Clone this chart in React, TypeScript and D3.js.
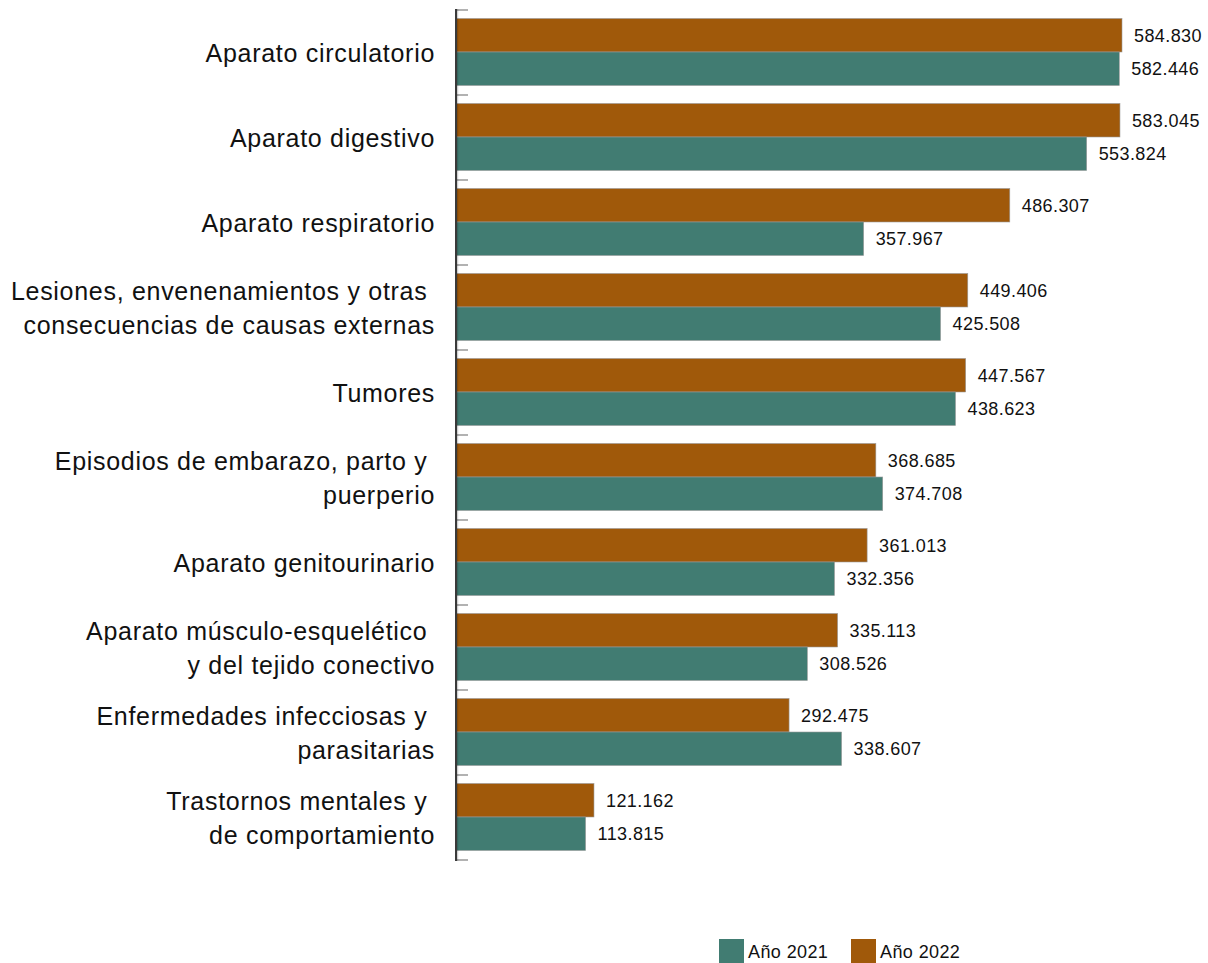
import React from 'react';
import * as d3 from 'd3';

const categories: string[][] = [
  ['Aparato circulatorio'],
  ['Aparato digestivo'],
  ['Aparato respiratorio'],
  ['Lesiones, envenenamientos y otras ', 'consecuencias de causas externas'],
  ['Tumores'],
  ['Episodios de embarazo, parto y ', 'puerperio'],
  ['Aparato genitourinario'],
  ['Aparato músculo-esquelético ', 'y del tejido conectivo'],
  ['Enfermedades infecciosas y ', 'parasitarias'],
  ['Trastornos mentales y ', 'de comportamiento'],
];

const values2022 = [584830, 583045, 486307, 449406, 447567, 368685, 361013, 335113, 292475, 121162];
const values2021 = [582446, 553824, 357967, 425508, 438623, 374708, 332356, 308526, 338607, 113815];

const seriesNames = ['Año 2022', 'Año 2021'];
const legendNames = ['Año 2021', 'Año 2022'];

const colors: Record<string, string> = {
  'Año 2021': '#417c72',
  'Año 2022': '#a0590a',
};

const esLocale = d3.formatLocale({ decimal: ',', thousands: '.', grouping: [3], currency: ['', '€'] });
const fmt = esLocale.format(',d');

const App: React.FC = () => {
  const width = 1208;
  const height = 963;
  const axisX = 456;

  const y = d3.scaleBand<number>()
    .domain(d3.range(categories.length))
    .range([10, 860])
    .paddingInner(0)
    .paddingOuter(0);

  const inner = d3.scaleBand<string>()
    .domain(seriesNames)
    .range([8.5, y.bandwidth() - 9.5]);

  const x = d3.scaleLinear()
    .domain([0, 584830])
    .range([axisX, 1122]);

  const ticks = d3.range(categories.length + 1).map(i => 10 + i * y.bandwidth());

  return (
    <svg width={width} height={height} style={{ position: 'absolute', left: 0, top: 0 }}
      fontFamily="'Liberation Sans', Arial, sans-serif">

      {/* bars */}
      {categories.map((lines, i) => {
        const band = y(i) || 0;
        const rows = [
          { name: 'Año 2022', v: values2022[i] },
          { name: 'Año 2021', v: values2021[i] },
        ];
        return (
          <g key={i}>
            {rows.map(r => {
              const by = band + (inner(r.name) || 0);
              const bh = inner.bandwidth();
              return (
                <g key={r.name}>
                  <rect x={x(0)} y={by} width={x(r.v) - x(0)} height={bh}
                    fill={colors[r.name]} stroke="#9a9a9a" strokeWidth={0.6} />
                  <text x={x(r.v) + 12} y={by + bh / 2} dy="0.36em" fontSize={18}
                    letterSpacing={0.4} fill="#111">
                    {fmt(r.v)}
                  </text>
                </g>
              );
            })}
            {lines.map((ln, j) => (
              <text key={j} x={435} textAnchor="end" fontSize={25} letterSpacing={0.7} fill="#111"
                y={band + y.bandwidth() / 2 + (j - (lines.length - 1) / 2) * 34} dy="0.36em"
                style={{ whiteSpace: 'pre' }}>
                {ln}
              </text>
            ))}
          </g>
        );
      })}

      {/* axis */}
      {ticks.map((t, i) => (
        <line key={i} x1={axisX} x2={axisX + 12} y1={t} y2={t} stroke="#999" strokeWidth={1.5} />
      ))}
      <line x1={axisX + 1.5} x2={axisX + 1.5} y1={9} y2={861} stroke="#000" strokeOpacity={0.18} strokeWidth={1.5} />
      <line x1={axisX} x2={axisX} y1={9} y2={861} stroke="#3a3a3a" strokeWidth={2} />

      {/* legend */}
      {legendNames.map((n, i) => (
        <g key={n} transform={`translate(${719 + i * 132}, 939)`}>
          <rect width={25} height={25} fill={colors[n]} />
          <text x={29} y={19} fontSize={18} letterSpacing={0.4} fill="#111">{n}</text>
        </g>
      ))}
    </svg>
  );
};

export default App;
